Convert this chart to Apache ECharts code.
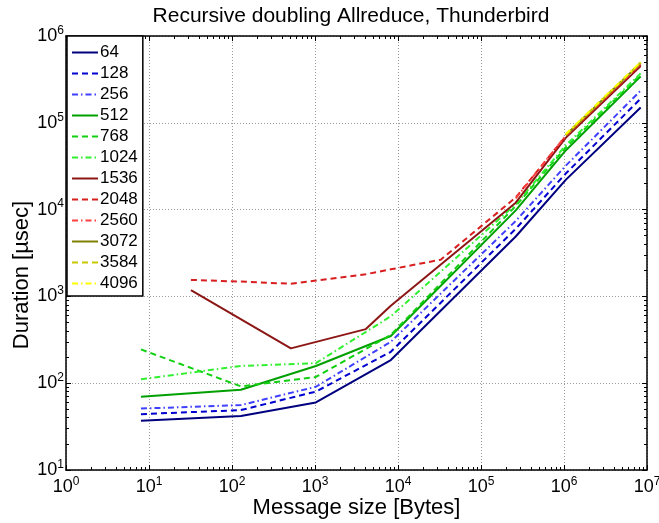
<!DOCTYPE html>
<html><head><meta charset="utf-8">
<script src="https://cdn.jsdelivr.net/npm/echarts@6/dist/echarts.min.js"></script>
<style>html,body{margin:0;padding:0;background:#fff}#c{width:659px;height:523px}</style>
</head><body><div id="c"></div>
<script>
// process counts (legend)
const procNames = ['64','128','256','512','768','1024','1536','2048','2560','3072','3584','4096'];
// message sizes (bytes) per series group
const sizesLow = [8, 128, 1024, 8192, 262144, 1048576, 8388608];
const sizes1536 = [32, 512, 4096, 8192, 262144, 1048576, 8388608];
const sizes2048 = [32, 128, 512, 1024, 4096, 8192, 32768, 262144, 1048576, 8388608];
const sizes2560 = [262144, 1048576, 8388608];
const sizesHigh = [1048576, 8388608];
// durations (usec)
const d64   = [37, 42, 60, 185, 4900, 22000, 150000];
const d128  = [44, 49, 80, 230, 6000, 26000, 190000];
const d256  = [51, 56, 91, 300, 7400, 32000, 235000];
const d512  = [70, 84, 158, 350, 9800, 48000, 343000];
const d768  = [245, 92, 118, 360, 11000, 52000, 360000];
const d1024 = [111, 158, 170, 590, 11500, 55000, 370000];
const d1536 = [1180, 252, 420, 780, 12000, 67000, 450000];
const d2048 = [1550, 1480, 1400, 1520, 1800, 2050, 2650, 13800, 70000, 470000];
const d2560 = [13500, 71000, 480000];
const d3072 = [72000, 490000];
const d3584 = [73000, 495000];
const d4096 = [74000, 500000];
// axis ranges
const xRange = [1, 1e7];
const yRange = [10, 1e6];

const seriesDefs = [
  {x: sizesLow, y: d64,   color: '#00007f', dash: 'solid'},
  {x: sizesLow, y: d128,  color: '#0000d0', dash: [6, 4]},
  {x: sizesLow, y: d256,  color: '#4040ff', dash: [6, 3, 1.5, 3]},
  {x: sizesLow, y: d512,  color: '#00a000', dash: 'solid'},
  {x: sizesLow, y: d768,  color: '#10d010', dash: [6, 4]},
  {x: sizesLow, y: d1024, color: '#30f030', dash: [6, 3, 1.5, 3]},
  {x: sizes1536, y: d1536, color: '#8c1616', dash: 'solid'},
  {x: sizes2048, y: d2048, color: '#d81e1e', dash: [6, 4]},
  {x: sizes2560, y: d2560, color: '#ff4040', dash: [6, 3, 1.5, 3]},
  {x: sizesHigh, y: d3072, color: '#808000', dash: 'solid'},
  {x: sizesHigh, y: d3584, color: '#c8c800', dash: [6, 4]},
  {x: sizesHigh, y: d4096, color: '#ffff00', dash: [6, 3, 1.5, 3]}
];

function minorValues(lo, hi) {
  const out = [];
  for (let k = Math.round(Math.log10(lo)); k < Math.round(Math.log10(hi)); k++) {
    for (let m = 2; m <= 9; m++) out.push(m * Math.pow(10, k));
  }
  return out;
}
function majorValues(lo, hi) {
  const out = [];
  for (let k = Math.round(Math.log10(lo)); k <= Math.round(Math.log10(hi)); k++) out.push(Math.pow(10, k));
  return out;
}
const FONT = '"Liberation Sans", Arial, Helvetica, sans-serif';
const supLabel = {
  formatter: v => '{b|10}{s|' + Math.round(Math.log10(v)) + '}',
  rich: {
    b: {fontSize: 18, color: '#000', fontFamily: FONT},
    s: {fontSize: 12, color: '#000', fontFamily: FONT, padding: [0, 0, 11, 0]}
  }
};
const black = {color: '#000', width: 1.5};

function axisSet(dir, range) {
  const isX = dir === 'x';
  const posMain = isX ? 'bottom' : 'left';
  const posOpp = isX ? 'top' : 'right';
  const base = {type: 'log', logBase: 10, min: range[0], max: range[1], splitNumber: isX ? 7 : 5};
  return [
    Object.assign({}, base, {
      position: posMain,
      name: isX ? 'Message size [Bytes]' : '',
      nameLocation: 'middle',
      nameGap: 27,
      nameMoveOverlap: false,
      nameTextStyle: {fontSize: 22, fontFamily: FONT, color: '#000'},
      axisLine: {show: true, lineStyle: black},
      axisTick: {show: true, inside: true, length: 5, lineStyle: {color: '#000', width: 1}},
      axisLabel: Object.assign({show: true, margin: isX ? 6 : 2}, supLabel),
      splitLine: {show: true, lineStyle: {color: '#9a9a9a', type: [1, 2], width: 1}},
      minorTick: {show: false}
    }),
    Object.assign({}, base, {
      position: posMain,
      axisLine: {show: false},
      axisTick: {show: true, inside: true, length: 3, customValues: minorValues(range[0], range[1]), lineStyle: {color: '#000', width: 1}},
      axisLabel: {show: false},
      splitLine: {show: false}
    }),
    Object.assign({}, base, {
      position: posOpp,
      axisLine: {show: true, lineStyle: black},
      axisTick: {show: true, inside: true, length: 5, customValues: majorValues(range[0], range[1]), lineStyle: {color: '#000', width: 1}},
      axisLabel: {show: false},
      splitLine: {show: false}
    }),
    Object.assign({}, base, {
      position: posOpp,
      axisLine: {show: false},
      axisTick: {show: true, inside: true, length: 3, customValues: minorValues(range[0], range[1]), lineStyle: {color: '#000', width: 1}},
      axisLabel: {show: false},
      splitLine: {show: false}
    })
  ];
}

const chart = echarts.init(document.getElementById('c'), null, {renderer: 'canvas'});
chart.setOption({
  animation: false,
  backgroundColor: '#fff',
  title: {
    text: 'Recursive doubling Allreduce, Thunderbird',
    left: 346, top: 1, textAlign: 'center',
    textStyle: {fontSize: 21, fontWeight: 'normal', fontFamily: FONT, color: '#000'}
  },
  graphic: [{
    type: 'text', x: 22, y: 275, rotation: Math.PI / 2,
    style: {text: 'Duration [\u00b5sec]', fontSize: 22, fontFamily: FONT, fill: '#000', align: 'center', verticalAlign: 'middle'}
  }],
  grid: {left: 66, right: 12, top: 36, bottom: 53, containLabel: false, outerBoundsMode: 'none'},
  legend: {
    orient: 'vertical', left: 67, top: 36,
    itemWidth: 26, itemHeight: 17, itemGap: 4,
    padding: [8, 5, 4, 4],
    borderColor: '#000', borderWidth: 1.5, backgroundColor: '#fff',
    itemStyle: {opacity: 0},
    textStyle: {fontSize: 17, fontFamily: FONT, color: '#000', padding: [0, 0, 0, -3]},
    data: procNames
  },
  xAxis: axisSet('x', xRange),
  yAxis: axisSet('y', yRange),
  series: seriesDefs.map((d, i) => ({
    name: procNames[i],
    type: 'line',
    xAxisIndex: 0, yAxisIndex: 0,
    symbol: 'none',
    data: d.x.map((s, j) => [s, d.y[j]]),
    lineStyle: {color: d.color, width: 2, type: d.dash},
    itemStyle: {color: d.color},
    z: 2 + i * 0.01
  }))
});
</script>
</body></html>
